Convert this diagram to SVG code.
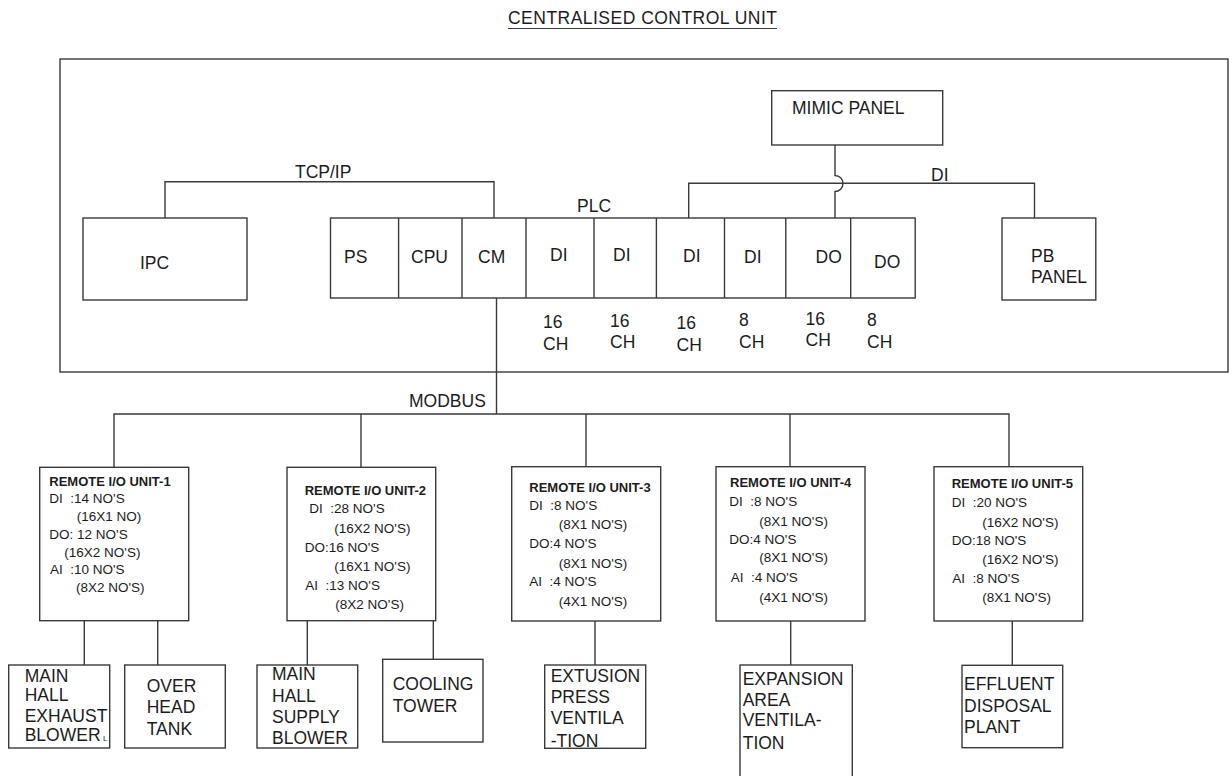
<svg xmlns="http://www.w3.org/2000/svg" width="1232" height="776" viewBox="0 0 1232 776">
<style>
text{font-family:"Liberation Sans",Arial,sans-serif;fill:#1c1c1c}
.l{font-size:17.5px}
.s{font-size:13.5px;white-space:pre}
.b{font-size:13px;font-weight:bold}
.box{fill:#fff;stroke:#3a3a3a;stroke-width:1.4}
.ln{fill:none;stroke:#3a3a3a;stroke-width:1.4}
</style>
<rect width="1232" height="776" fill="#fff"/>
<g id="title">
<text class="l" x="508" y="24" textLength="269" font-size="18">CENTRALISED CONTROL UNIT</text>
<line x1="508" y1="28.5" x2="777" y2="28.5" stroke="#3a3a3a" stroke-width="1.2"/>
</g>
<g id="ccu-frame"><rect class="box" x="60" y="59" width="1168" height="313"/></g>

<g id="connectors">
<path class="ln" d="M165 218 V181.7 H494 V218"/>
<path class="ln" d="M688.7 218 V183.3 H1034.5 V218"/>
<path class="ln" d="M835 145 V175.5 A8 8 0 0 1 835 191.5 V218"/>
<path class="ln" d="M496.5 298 V414"/>
<path class="ln" d="M114 467.3 V414 H1009 V466.7"/>
<path class="ln" d="M361 414 V467.3"/>
<path class="ln" d="M586 414 V466.7"/>
<path class="ln" d="M790 414 V466.7"/>
<path class="ln" d="M84.3 620.7 V665"/>
<path class="ln" d="M157.7 620.7 V665"/>
<path class="ln" d="M307.3 620.7 V665"/>
<path class="ln" d="M433.3 620.7 V659.3"/>
<path class="ln" d="M595 621 V665"/>
<path class="ln" d="M790.7 621 V665"/>
<path class="ln" d="M1012.3 621 V665.3"/>
<text class="l" x="295" y="178">TCP/IP</text>
<text class="l" x="931" y="181">DI</text>
<text class="l" x="409" y="407">MODBUS</text>
</g>

<g id="ipc"><rect class="box" x="83" y="218" width="164" height="82"/><text class="l" x="140" y="269">IPC</text></g>

<g id="plc">
<rect class="box" x="330.5" y="218" width="584.7" height="80"/>
<path class="ln" d="M398.6 218 V298 M462 218 V298 M526 218 V298 M594 218 V298 M656.4 218 V298 M724.5 218 V298 M785.8 218 V298 M850.7 218 V298"/>
<text class="l" x="577" y="212">PLC</text>
<text class="l" x="344" y="263">PS</text>
<text class="l" x="411" y="263">CPU</text>
<text class="l" x="478" y="263">CM</text>
<text class="l" x="550" y="261">DI</text>
<text class="l" x="613" y="261">DI</text>
<text class="l" x="683" y="262">DI</text>
<text class="l" x="744" y="263">DI</text>
<text class="l" x="815.6" y="263">DO</text>
<text class="l" x="874" y="268">DO</text>
<text class="l" x="543" y="328">16</text><text class="l" x="543" y="350">CH</text>
<text class="l" x="610" y="326.7">16</text><text class="l" x="610" y="348">CH</text>
<text class="l" x="676.6" y="329">16</text><text class="l" x="676.6" y="351">CH</text>
<text class="l" x="739" y="326">8</text><text class="l" x="739" y="348">CH</text>
<text class="l" x="805.6" y="325">16</text><text class="l" x="805.6" y="346">CH</text>
<text class="l" x="867" y="326">8</text><text class="l" x="867" y="348">CH</text>
</g>

<g id="mimic-panel"><rect class="box" x="771.7" y="90.7" width="171" height="54.3"/><text class="l" x="792" y="114">MIMIC PANEL</text></g>
<g id="pb-panel"><rect class="box" x="1002" y="218" width="93.8" height="82"/><text class="l" x="1031" y="261.7">PB</text><text class="l" x="1031" y="282.7">PANEL</text></g>

<g id="rio-1">
<rect class="box" x="39.7" y="467.3" width="149" height="153.4"/>
<text class="b" x="49.3" y="486">REMOTE I/O UNIT-1</text>
<text class="s" x="49.3" y="503.3">DI  :14 NO'S</text>
<text class="s" x="76.7" y="520.7">(16X1 NO)</text>
<text class="s" x="49.3" y="539">DO: 12 NO'S</text>
<text class="s" x="64.3" y="556.7">(16X2 NO'S)</text>
<text class="s" x="50" y="574">AI  :10 NO'S</text>
<text class="s" x="76" y="591.7">(8X2 NO'S)</text>
</g>
<g id="rio-2">
<rect class="box" x="287" y="467.3" width="148.7" height="153.4"/>
<text class="b" x="304.7" y="495.3">REMOTE I/O UNIT-2</text>
<text class="s" x="309.3" y="513.3">DI  :28 NO'S</text>
<text class="s" x="334.3" y="533.3">(16X2 NO'S)</text>
<text class="s" x="304.7" y="552.3">DO:16 NO'S</text>
<text class="s" x="334.3" y="570.7">(16X1 NO'S)</text>
<text class="s" x="305.3" y="590">AI  :13 NO'S</text>
<text class="s" x="335.3" y="609.3">(8X2 NO'S)</text>
</g>
<g id="rio-3">
<rect class="box" x="511.7" y="466.7" width="149" height="154.3"/>
<text class="b" x="529.3" y="491.7">REMOTE I/O UNIT-3</text>
<text class="s" x="529.3" y="510">DI  :8 NO'S</text>
<text class="s" x="558.7" y="529.3">(8X1 NO'S)</text>
<text class="s" x="529.3" y="548.3">DO:4 NO'S</text>
<text class="s" x="558.7" y="567.7">(8X1 NO'S)</text>
<text class="s" x="529.3" y="586">AI  :4 NO'S</text>
<text class="s" x="558.7" y="605.7">(4X1 NO'S)</text>
</g>
<g id="rio-4">
<rect class="box" x="716" y="466.7" width="149" height="154.3"/>
<text class="b" x="730" y="487.3">REMOTE I/O UNIT-4</text>
<text class="s" x="729.3" y="505.7">DI  :8 NO'S</text>
<text class="s" x="759.3" y="526">(8X1 NO'S)</text>
<text class="s" x="729.3" y="544">DO:4 NO'S</text>
<text class="s" x="759.3" y="562.3">(8X1 NO'S)</text>
<text class="s" x="730.7" y="581.7">AI  :4 NO'S</text>
<text class="s" x="759.3" y="601.7">(4X1 NO'S)</text>
</g>
<g id="rio-5">
<rect class="box" x="934" y="466.7" width="148.7" height="154.3"/>
<text class="b" x="951.7" y="488.3">REMOTE I/O UNIT-5</text>
<text class="s" x="951.7" y="506.7">DI  :20 NO'S</text>
<text class="s" x="982.3" y="526.7">(16X2 NO'S)</text>
<text class="s" x="951.7" y="545">DO:18 NO'S</text>
<text class="s" x="982.3" y="564">(16X2 NO'S)</text>
<text class="s" x="952.3" y="582.7">AI  :8 NO'S</text>
<text class="s" x="982.3" y="602.3">(8X1 NO'S)</text>
</g>

<g id="exhaust-blower">
<rect class="box" x="8.7" y="665" width="101" height="83"/>
<text class="l" x="24.7" y="681.7">MAIN</text>
<text class="l" x="24.7" y="701">HALL</text>
<text class="l" x="24.7" y="721.7">EXHAUST</text>
<text class="l" x="24.7" y="741">BLOWER</text>
<text x="103" y="741" font-size="8">L</text>
</g>
<g id="overhead-tank">
<rect class="box" x="124.7" y="665" width="100.6" height="83"/>
<text class="l" x="146.7" y="691.7">OVER</text>
<text class="l" x="146.7" y="713.3">HEAD</text>
<text class="l" x="146.7" y="735.3">TANK</text>
</g>
<g id="supply-blower">
<rect class="box" x="257" y="665" width="100.7" height="83"/>
<text class="l" x="272" y="680">MAIN</text>
<text class="l" x="272" y="701.7">HALL</text>
<text class="l" x="272" y="723.3">SUPPLY</text>
<text class="l" x="272" y="744">BLOWER</text>
</g>
<g id="cooling-tower">
<rect class="box" x="382.7" y="659.3" width="100.3" height="82.7"/>
<text class="l" x="392.7" y="690">COOLING</text>
<text class="l" x="392.7" y="711.7">TOWER</text>
</g>
<g id="extrusion-press">
<rect class="box" x="544.7" y="665" width="101" height="83.3"/>
<text class="l" x="550.7" y="681.7">EXTUSION</text>
<text class="l" x="550.7" y="703.3">PRESS</text>
<text class="l" x="550.7" y="724.3">VENTILA</text>
<text class="l" x="550.7" y="746.7">-TION</text>
</g>
<g id="expansion-area">
<rect class="box" x="740" y="665" width="112.3" height="130"/>
<text class="l" x="742.7" y="685">EXPANSION</text>
<text class="l" x="742.7" y="705.5">AREA</text>
<text class="l" x="742.7" y="726">VENTILA-</text>
<text class="l" x="742.7" y="749.3">TION</text>
</g>
<g id="effluent-plant">
<rect class="box" x="962" y="665.3" width="100.7" height="82.4"/>
<text class="l" x="964" y="690">EFFLUENT</text>
<text class="l" x="964" y="711.7">DISPOSAL</text>
<text class="l" x="964" y="733.3">PLANT</text>
</g>
</svg>
